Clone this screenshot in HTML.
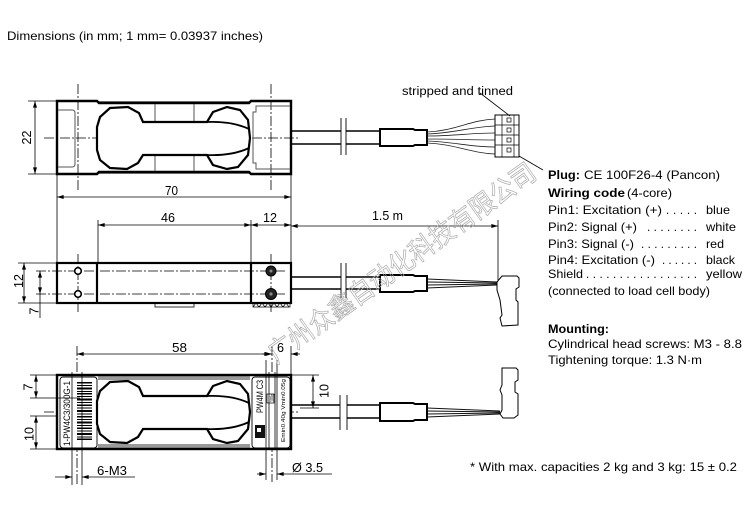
<!DOCTYPE html>
<html>
<head>
<meta charset="utf-8">
<style>
html,body{margin:0;padding:0;background:#fff;}
svg{display:block;}
text{font-family:"Liberation Sans","Noto Sans CJK SC",sans-serif;fill:#000;}
</style>
</head>
<body>
<svg width="750" height="521" viewBox="0 0 750 521" xmlns="http://www.w3.org/2000/svg">
<defs>
<marker id="a" viewBox="0 0 10 6" refX="10" refY="3" markerWidth="8" markerHeight="4" orient="auto-start-reverse" markerUnits="userSpaceOnUse"><path d="M0,0 L10,3 L0,6 z" fill="#000"/></marker>
</defs>
<rect width="750" height="521" fill="#fff"/>

<!-- Title -->
<text x="7" y="40" font-size="11.6" textLength="256" lengthAdjust="spacingAndGlyphs">Dimensions (in mm; 1 mm= 0.03937 inches)</text>

<!-- ================= TOP VIEW ================= -->
<g fill="none" stroke="#000">
  <g stroke-width="0.8" stroke-dasharray="10,2,2,2">
    <line x1="44" y1="138" x2="300" y2="138"/>
    <line x1="78" y1="84" x2="78" y2="192"/>
    <line x1="271" y1="84" x2="271" y2="192"/>
  </g>
  <rect x="98" y="101" width="152" height="3" fill="#8a8a8a" stroke="none"/>
  <rect x="98" y="171" width="152" height="3" fill="#8a8a8a" stroke="none"/>
  <path d="M57,101 H97 L99,103 H249 L251,101 H291 V174 H251 L249,172 H99 L97,174 H57 Z" stroke-width="2.4"/>
  <line x1="155" y1="104" x2="155" y2="171" stroke="#555" stroke-width="1"/>
  <line x1="194" y1="104" x2="194" y2="171" stroke="#555" stroke-width="1"/>
  <path d="M58,110 H72 Q75,110 75,113 V164 Q75,167 72,167 H58" stroke="#555" stroke-width="1"/>
  <path d="M290,106 H256 V112 H253 V163 H256 V169 H290" stroke="#555" stroke-width="1"/>
  <path d="M110,108 L128,107 L139,113 L143,122 L207,122 L213,112 L227,107 L240,110 L248,120 L250,138 L248,155 L238,167 L227,169 L213,165 L207,155 L143,155 L138,163 L127,169 L110,168 L100,160 L97,150 L97,127 L100,117 Z" fill="#fff" stroke-width="2.2"/>
  <path d="M207,122 Q232,121 249,129 M207,155 Q232,156 249,148" stroke-width="1.8"/>
  <g stroke-width="1.6">
    <line x1="291" y1="131" x2="341" y2="131"/>
    <line x1="291" y1="144" x2="341" y2="144"/>
    <line x1="346" y1="131" x2="380" y2="131"/>
    <line x1="346" y1="144" x2="380" y2="144"/>
  </g>
  <g stroke-width="0.9">
    <line x1="341" y1="118" x2="341" y2="155"/>
    <line x1="346" y1="118" x2="346" y2="155"/>
  </g>
  <path d="M380,129 H413 L415,130 H427 V145 H415 L413,146 H380 Z" fill="#fff" stroke-width="2"/>
  <g stroke-width="0.8" stroke="#222">
    <path d="M427,132 C455,131 470,120 495,119"/>
    <path d="M427,134 C455,133 470,127 495,126"/>
    <path d="M427,136 C455,136 470,133 495,133"/>
    <path d="M427,139 C455,139 470,140 495,140"/>
    <path d="M427,141 C455,142 470,147 495,147"/>
    <path d="M427,143 C455,144 470,153 495,154"/>
  </g>
  <rect x="495" y="115" width="24" height="42" stroke-width="1"/>
  <g stroke-width="0.7">
    <line x1="495" y1="125" x2="519" y2="125"/>
    <line x1="495" y1="135" x2="519" y2="135"/>
    <line x1="495" y1="145" x2="519" y2="145"/>
    <line x1="502" y1="115" x2="502" y2="157"/>
    <line x1="514" y1="115" x2="514" y2="157"/>
    <rect x="507" y="118" width="4" height="4"/>
    <rect x="507" y="128" width="4" height="4"/>
    <rect x="507" y="138" width="4" height="4"/>
    <rect x="507" y="148" width="4" height="4"/>
  </g>
  <line x1="480" y1="93" x2="510" y2="116" stroke-width="0.8"/>
  <line x1="519" y1="156" x2="543" y2="170" stroke-width="0.8"/>
  <g stroke-width="0.8">
    <line x1="28" y1="101" x2="57" y2="101"/>
    <line x1="28" y1="174" x2="57" y2="174"/>
    <line x1="35" y1="101" x2="35" y2="174" marker-start="url(#a)" marker-end="url(#a)"/>
  </g>
</g>
<text x="402" y="95" font-size="11.5" textLength="111" lengthAdjust="spacingAndGlyphs">stripped and tinned</text>
<text transform="translate(31,137.5) rotate(-90)" font-size="12.5" text-anchor="middle">22</text>

<!-- ================= DIMENSIONS between views ================= -->
<g fill="none" stroke="#000" stroke-width="0.8">
  <line x1="57" y1="174" x2="57" y2="263"/>
  <line x1="291" y1="174" x2="291" y2="263"/>
  <line x1="57" y1="197" x2="291" y2="197" marker-start="url(#a)" marker-end="url(#a)"/>
  <line x1="98" y1="220" x2="98" y2="263"/>
  <line x1="251" y1="220" x2="251" y2="263"/>
  <line x1="98" y1="225" x2="251" y2="225" marker-start="url(#a)" marker-end="url(#a)"/>
  <line x1="251" y1="225" x2="291" y2="225" marker-start="url(#a)" marker-end="url(#a)"/>
  <line x1="291" y1="226" x2="498" y2="226" marker-start="url(#a)" marker-end="url(#a)"/>
  <line x1="498" y1="220" x2="498" y2="280"/>
</g>
<text x="165" y="195" font-size="12.5" textLength="13" lengthAdjust="spacingAndGlyphs">70</text>
<text x="161" y="222" font-size="12.5" textLength="14" lengthAdjust="spacingAndGlyphs">46</text>
<text x="263" y="222" font-size="12.5" textLength="14" lengthAdjust="spacingAndGlyphs">12</text>
<text x="372" y="220" font-size="12.5" textLength="31" lengthAdjust="spacingAndGlyphs">1.5 m</text>

<!-- ================= SIDE VIEW ================= -->
<g fill="none" stroke="#000">
  <g stroke-width="0.8" stroke-dasharray="10,2,2,2">
    <line x1="36" y1="271" x2="285" y2="271"/>
    <line x1="36" y1="294" x2="285" y2="294"/>
    <line x1="78" y1="254" x2="78" y2="312"/>
    <line x1="271" y1="254" x2="271" y2="312"/>
  </g>
  <rect x="57" y="263" width="234" height="40" stroke-width="2.2"/>
  <line x1="97" y1="263" x2="97" y2="303" stroke-width="2.2"/>
  <line x1="251" y1="263" x2="251" y2="303" stroke-width="2.2"/>
  <circle cx="78" cy="271" r="3.3" fill="#fff" stroke-width="1.6"/>
  <circle cx="78" cy="294" r="3.3" fill="#fff" stroke-width="1.6"/>
  <circle cx="271" cy="271" r="5" fill="#222" stroke-width="1"/>
  <circle cx="271" cy="271" r="1.5" fill="#888" stroke="none"/>
  <circle cx="271" cy="294" r="5.5" fill="#222" stroke-width="1"/>
  <circle cx="271" cy="294" r="1.6" fill="#888" stroke="none"/>
  <rect x="155" y="303" width="39" height="4" stroke-width="0.8"/>
  <path d="M253,303 V307 H290 V303 M253,307 L256,303 L259,307 L262,303 L265,307 L268,303 L271,307 L274,303 L277,307 L280,303 L283,307 L286,303 L289,307" stroke-width="0.7"/>
  <g stroke-width="1.6">
    <line x1="291" y1="277" x2="341" y2="277"/>
    <line x1="291" y1="289" x2="341" y2="289"/>
    <line x1="346" y1="277" x2="380" y2="277"/>
    <line x1="346" y1="289" x2="380" y2="289"/>
  </g>
  <g stroke-width="0.9">
    <line x1="341" y1="263" x2="341" y2="298"/>
    <line x1="346" y1="263" x2="346" y2="298"/>
  </g>
  <path d="M380,275 H413 L415,276 H427 V291 H415 L413,292 H380 Z" fill="#fff" stroke-width="2"/>
  <g stroke-width="0.9" stroke="#111">
    <line x1="427" y1="279" x2="497" y2="282"/>
    <line x1="427" y1="282" x2="497" y2="283"/>
    <line x1="427" y1="285" x2="497" y2="284"/>
    <line x1="427" y1="288" x2="497" y2="285"/>
  </g>
  <path d="M497,282 L502,276 L517,276 L519,278 V287 L516,289 V300 L518,302 V325 L502,326 L500,318 L502,315 L500,300 L497,290 Z" fill="#fff" stroke-width="1"/>
  <g stroke-width="0.8">
    <line x1="18" y1="263" x2="57" y2="263"/>
    <line x1="18" y1="303" x2="57" y2="303"/>
    <line x1="24" y1="263" x2="24" y2="303" marker-start="url(#a)" marker-end="url(#a)"/>
    <line x1="40" y1="271" x2="40" y2="294" marker-start="url(#a)" marker-end="url(#a)"/>
    <line x1="40" y1="294" x2="40" y2="318"/>
  </g>
</g>
<text transform="translate(23,281) rotate(-90)" font-size="12.5" text-anchor="middle">12</text>
<text transform="translate(38.5,311) rotate(-90)" font-size="12.5" text-anchor="middle">7</text>

<!-- ================= BOTTOM VIEW ================= -->
<g fill="none" stroke="#000">
  <g stroke-width="0.8" stroke-dasharray="10,2,2,2">
    <line x1="44" y1="412" x2="300" y2="412"/>
    <line x1="77" y1="346" x2="77" y2="486"/>
    <line x1="272" y1="346" x2="272" y2="482"/>
  </g>
  <rect x="98" y="375" width="152" height="5" fill="#9a9a9a" stroke="none"/>
  <rect x="98" y="444" width="152" height="5" fill="#9a9a9a" stroke="none"/>
  <rect x="57" y="375" width="234" height="74" stroke-width="2.4"/>
  <rect x="60" y="377" width="37" height="71" rx="3" fill="#fff" stroke-width="0.9"/>
  <rect x="252" y="377" width="38" height="71" rx="3" fill="#fff" stroke-width="0.9"/>
  <g transform="translate(0,274)">
    <path d="M110,108 L128,107 L139,113 L143,122 L207,122 L213,112 L227,107 L240,110 L248,120 L250,138 L248,155 L238,167 L227,169 L213,165 L207,155 L143,155 L138,163 L127,169 L110,168 L100,160 L97,150 L97,127 L100,117 Z" fill="#fff" stroke-width="2.2"/>
    <path d="M207,122 Q232,121 249,129 M207,155 Q232,156 249,148" stroke-width="1.8"/>
  </g>
  <g stroke-width="0.8">
    <line x1="72" y1="372" x2="72" y2="485"/>
    <line x1="82" y1="372" x2="82" y2="485"/>
    <line x1="266" y1="360" x2="266" y2="480"/>
    <line x1="269" y1="372" x2="269" y2="448"/>
    <line x1="275" y1="372" x2="275" y2="448"/>
    <line x1="277" y1="360" x2="277" y2="480"/>
  </g>
  <rect x="267" y="394" width="7" height="9" stroke-width="0.7"/>
  <g stroke-width="1.6">
    <line x1="291" y1="405" x2="340" y2="405"/>
    <line x1="291" y1="418" x2="340" y2="418"/>
    <line x1="347" y1="405" x2="380" y2="405"/>
    <line x1="347" y1="418" x2="380" y2="418"/>
  </g>
  <g stroke-width="0.9">
    <line x1="340" y1="395" x2="340" y2="430"/>
    <line x1="347" y1="395" x2="347" y2="430"/>
  </g>
  <path d="M380,403 H413 L415,404 H427 V420 H415 L413,421 H380 Z" fill="#fff" stroke-width="2"/>
  <g stroke-width="0.9" stroke="#111">
    <line x1="427" y1="408" x2="500" y2="411"/>
    <line x1="427" y1="411" x2="500" y2="412"/>
    <line x1="427" y1="414" x2="500" y2="413"/>
    <line x1="427" y1="417" x2="500" y2="414"/>
  </g>
  <path d="M502,368 H516 L518,370 V380 L515,382 V392 L518,394 V415 L514,418 H503 L500,414 L502,410 V395 L500,390 L502,385 Z" fill="#fff" stroke-width="1"/>
  <g stroke-width="0.8">
    <line x1="77" y1="354" x2="271" y2="354" marker-start="url(#a)" marker-end="url(#a)"/>
    <line x1="262" y1="354" x2="272" y2="354" marker-end="url(#a)"/>
    <line x1="300" y1="354" x2="291" y2="354" marker-end="url(#a)"/>
    <line x1="291" y1="346" x2="291" y2="375"/>
    <line x1="30" y1="375" x2="57" y2="375"/>
    <line x1="30" y1="398" x2="80" y2="398"/>
    <line x1="30" y1="416" x2="57" y2="416"/>
    <line x1="30" y1="449" x2="57" y2="449"/>
    <line x1="36" y1="375" x2="36" y2="398" marker-start="url(#a)" marker-end="url(#a)"/>
    <line x1="36" y1="416" x2="36" y2="449" marker-start="url(#a)" marker-end="url(#a)"/>
    <line x1="291" y1="375" x2="319" y2="375"/>
    <line x1="300" y1="408" x2="319" y2="408"/>
    <line x1="313" y1="375" x2="313" y2="408" marker-start="url(#a)" marker-end="url(#a)"/>
    <line x1="55" y1="477" x2="72" y2="477" marker-end="url(#a)"/>
    <line x1="135" y1="477" x2="82" y2="477" marker-end="url(#a)"/>
    <line x1="257" y1="474" x2="266" y2="474" marker-end="url(#a)"/>
    <line x1="332" y1="474" x2="277" y2="474" marker-end="url(#a)"/>
  </g>
</g>
<g fill="#000">
  <rect x="77" y="382" width="15" height="1.5"/>
  <rect x="77" y="385" width="15" height="1"/>
  <rect x="77" y="387.5" width="15" height="2"/>
  <rect x="77" y="391" width="15" height="1"/>
  <rect x="77" y="393" width="15" height="1.5"/>
  <rect x="77" y="396" width="15" height="1"/>
  <rect x="77" y="398.5" width="15" height="2"/>
  <rect x="77" y="402" width="15" height="1"/>
  <rect x="77" y="404.5" width="15" height="1.5"/>
  <rect x="77" y="407.5" width="15" height="1"/>
  <rect x="77" y="410" width="15" height="2"/>
  <rect x="77" y="413.5" width="15" height="1"/>
  <rect x="77" y="416" width="15" height="1.5"/>
  <rect x="77" y="419" width="15" height="1"/>
  <rect x="77" y="421.5" width="15" height="2"/>
  <rect x="77" y="425" width="15" height="1"/>
  <rect x="77" y="427.5" width="15" height="1.5"/>
  <rect x="77" y="430.5" width="15" height="1"/>
  <rect x="77" y="433" width="15" height="2"/>
  <rect x="77" y="436.5" width="15" height="1"/>
  <rect x="77" y="438.5" width="15" height="1.5"/>
</g>
<rect x="255" y="425" width="10" height="13" fill="#111"/>
<rect x="257" y="428" width="4" height="4" fill="#fff"/>
<text transform="translate(70,446) rotate(-90)" font-size="9" textLength="65" lengthAdjust="spacingAndGlyphs">1-PW4C3/300G-1</text>
<text transform="translate(263,413) rotate(-90)" font-size="9" textLength="33" lengthAdjust="spacingAndGlyphs">PW4M  C3</text>
<text transform="translate(285,442) rotate(-90)" font-size="5.5" textLength="63" lengthAdjust="spacingAndGlyphs">Emin0.40g  Vmin0.05g</text>
<text transform="translate(274,402) rotate(-90)" font-size="5" textLength="8" lengthAdjust="spacingAndGlyphs">100g</text>

<text x="172" y="352" font-size="12.5" textLength="15" lengthAdjust="spacingAndGlyphs">58</text>
<text x="277" y="352" font-size="12.5" textLength="7" lengthAdjust="spacingAndGlyphs">6</text>
<text transform="translate(32.5,387) rotate(-90)" font-size="12.5" text-anchor="middle">7</text>
<text transform="translate(33.5,434) rotate(-90)" font-size="12.5" text-anchor="middle">10</text>
<text transform="translate(328.5,391) rotate(-90)" font-size="12.5" text-anchor="middle">10</text>
<text x="97" y="475" font-size="12.5" textLength="30" lengthAdjust="spacingAndGlyphs">6-M3</text>
<text x="292" y="472" font-size="12.5" textLength="31" lengthAdjust="spacingAndGlyphs">Ø 3.5</text>

<!-- ================= RIGHT TEXT ================= -->
<g font-size="11.6">
  <text x="548" y="179" font-weight="bold" textLength="32" lengthAdjust="spacingAndGlyphs">Plug:</text>
  <text x="584" y="179" textLength="136" lengthAdjust="spacingAndGlyphs">CE 100F26-4 (Pancon)</text>
  <text x="548" y="197" font-weight="bold" textLength="77" lengthAdjust="spacingAndGlyphs">Wiring code</text>
  <text x="627" y="197" textLength="45" lengthAdjust="spacingAndGlyphs">(4-core)</text>

  <text x="548" y="214" textLength="114" lengthAdjust="spacingAndGlyphs">Pin1: Excitation (+)</text>
  <text x="666" y="214" textLength="31" lengthAdjust="spacing">. . . . .</text>
  <text x="706" y="214" textLength="24" lengthAdjust="spacingAndGlyphs">blue</text>

  <text x="548" y="231" textLength="89" lengthAdjust="spacingAndGlyphs">Pin2: Signal (+)</text>
  <text x="647" y="231" textLength="50" lengthAdjust="spacing">. . . . . . . .</text>
  <text x="706" y="231" textLength="30" lengthAdjust="spacingAndGlyphs">white</text>

  <text x="548" y="248" textLength="86" lengthAdjust="spacingAndGlyphs">Pin3: Signal (-)</text>
  <text x="641" y="248" textLength="56" lengthAdjust="spacing">. . . . . . . . .</text>
  <text x="706" y="248" textLength="18" lengthAdjust="spacingAndGlyphs">red</text>

  <text x="548" y="264" textLength="107" lengthAdjust="spacingAndGlyphs">Pin4: Excitation (-)</text>
  <text x="662" y="264" textLength="35" lengthAdjust="spacing">. . . . . .</text>
  <text x="706" y="264" textLength="29" lengthAdjust="spacingAndGlyphs">black</text>

  <text x="548" y="278" textLength="35" lengthAdjust="spacingAndGlyphs">Shield</text>
  <text x="586" y="278" textLength="111" lengthAdjust="spacing">. . . . . . . . . . . . . . . . .</text>
  <text x="706" y="278" textLength="36" lengthAdjust="spacingAndGlyphs">yellow</text>

  <text x="548" y="295" textLength="162" lengthAdjust="spacingAndGlyphs">(connected to load cell body)</text>

  <text x="548" y="333" font-weight="bold" textLength="61" lengthAdjust="spacingAndGlyphs">Mounting:</text>
  <text x="548" y="348" textLength="194" lengthAdjust="spacingAndGlyphs">Cylindrical head screws: M3 - 8.8</text>
  <text x="548" y="364" textLength="154" lengthAdjust="spacingAndGlyphs">Tightening torque: 1.3 N·m</text>

  <text x="470" y="471" textLength="267" lengthAdjust="spacingAndGlyphs">* With max. capacities 2 kg and 3 kg: 15 ± 0.2</text>
</g>

<!-- ================= WATERMARK ================= -->
<text transform="translate(276,364) rotate(-35.5)" font-size="27" textLength="322" lengthAdjust="spacingAndGlyphs" style="fill:none;stroke:#a8a8a8;stroke-width:0.7;font-family:'Noto Sans CJK SC','WenQuanYi Zen Hei',sans-serif;">广州众鑫自动化科技有限公司</text>
</svg>
</body>
</html>
